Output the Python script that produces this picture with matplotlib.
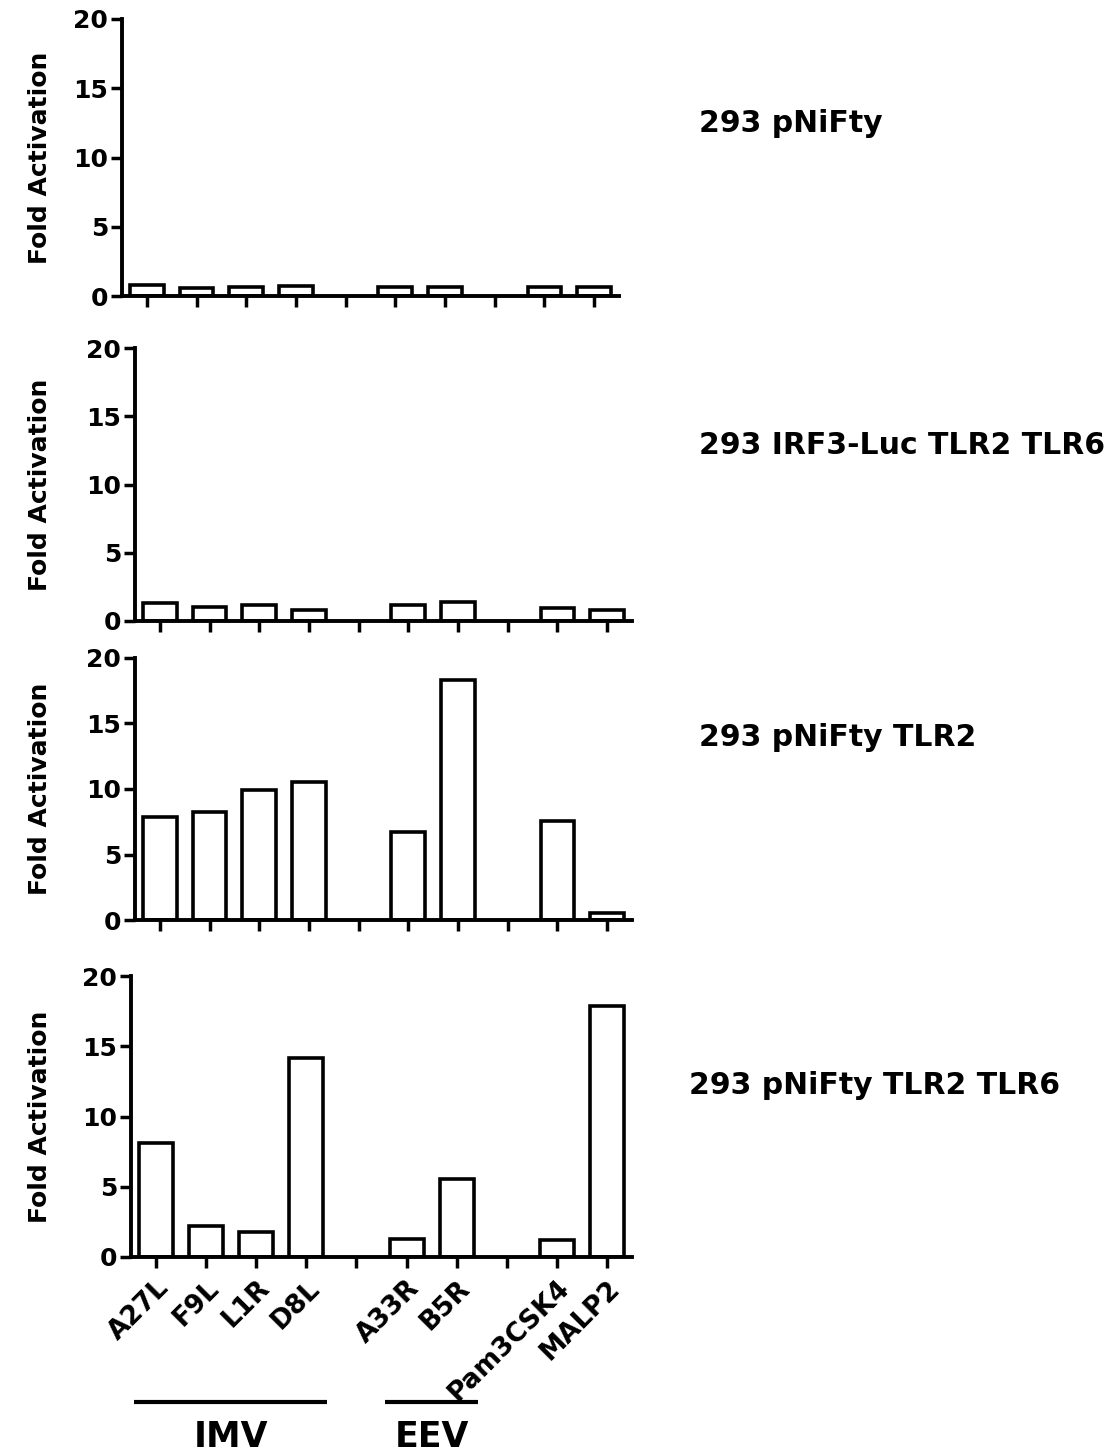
import numpy as np
import matplotlib
matplotlib.use('Agg')
import matplotlib.pyplot as plt
from matplotlib.transforms import blended_transform_factory

plt.rcParams['font.family'] = ['DejaVu Sans']
plt.rcParams['font.weight'] = 'bold'

# categories (empty slots are the gaps between groups)
labels = ['A27L', 'F9L', 'L1R', 'D8L', '', 'A33R', 'B5R', '', 'Pam3CSK4', 'MALP2']
bar_pos = [0, 1, 2, 3, 5, 6, 8, 9]

# fold activation per panel, one value per bar
pnifty = [0.8, 0.55, 0.63, 0.75, 0.63, 0.62, 0.62, 0.67]
irf3_tlr2_tlr6 = [1.3, 1.05, 1.17, 0.83, 1.17, 1.41, 0.98, 0.83]
pnifty_tlr2 = [7.9, 8.25, 9.9, 10.5, 6.75, 18.3, 7.55, 0.55]
pnifty_tlr2_tlr6 = [8.1, 2.2, 1.8, 14.15, 1.3, 5.55, 1.2, 17.9]

titles = ['293 pNiFty', '293 IRF3-Luc TLR2 TLR6', '293 pNiFty TLR2', '293 pNiFty TLR2 TLR6']
series = [pnifty, irf3_tlr2_tlr6, pnifty_tlr2, pnifty_tlr2_tlr6]

# groups under the bottom panel: name, first index, last index
groups = [('IMV', 0, 3), ('EEV', 5, 6)]

W, H = 1111, 1455
fig = plt.figure(figsize=(W / 100, H / 100), dpi=100)

# axes boxes in pixels: left, top, right, bottom
boxes = [(122, 19, 619, 296), (135, 348, 632, 621), (135, 658, 632, 920), (131, 976, 632, 1257)]
title_xy = [(699, 124), (699, 445), (699, 737), (689, 1085)]

axes = []
for i, (l, t, r, b) in enumerate(boxes):
    ax = fig.add_axes([l / W, 1 - b / H, (r - l) / W, (b - t) / H])
    ax.bar(bar_pos, series[i], width=0.68, color='white', edgecolor='black', linewidth=2.6, zorder=2)
    ax.set_xlim(-0.5, 9.5)
    ax.set_ylim(0, 20)
    ax.set_yticks([0, 5, 10, 15, 20])
    ax.set_xticks(range(10))
    for s in ['top', 'right']:
        ax.spines[s].set_visible(False)
    for s in ['left', 'bottom']:
        ax.spines[s].set_linewidth(2.8)
    ax.tick_params(axis='both', direction='out', length=8, width=2.5, labelsize=18, pad=2)
    for lab in ax.get_yticklabels():
        lab.set_fontweight('bold')
    ax.set_ylabel('Fold Activation', fontsize=18, fontweight='bold')
    ax.yaxis.set_label_coords(52 / W, 0.5, transform=blended_transform_factory(fig.transFigure, ax.transAxes))
    if i < 3:
        ax.set_xticklabels([])
    else:
        ax.set_xticklabels(labels, rotation=45, ha='right', rotation_mode='anchor',
                           fontsize=19, fontweight='bold')
        ax.tick_params(axis='x', pad=5)
    fig.text(title_xy[i][0] / W, 1 - title_xy[i][1] / H, titles[i], fontsize=21.5,
             fontweight='bold', ha='left', va='center')
    axes.append(ax)

# group bars and labels below the last panel
ax = axes[-1]
tr = blended_transform_factory(ax.transData, fig.transFigure)
for name, a, b in groups:
    ax.plot([a - 0.44, b + 0.42], [1 - 1402 / H, 1 - 1402 / H], color='black', linewidth=3,
            transform=tr, clip_on=False, solid_capstyle='butt')
    ax.text((a + b) / 2, 1 - 1437 / H, name, transform=tr, ha='center', va='center',
            fontsize=25, fontweight='bold')

fig.savefig('out.png', dpi=100, facecolor='white')
